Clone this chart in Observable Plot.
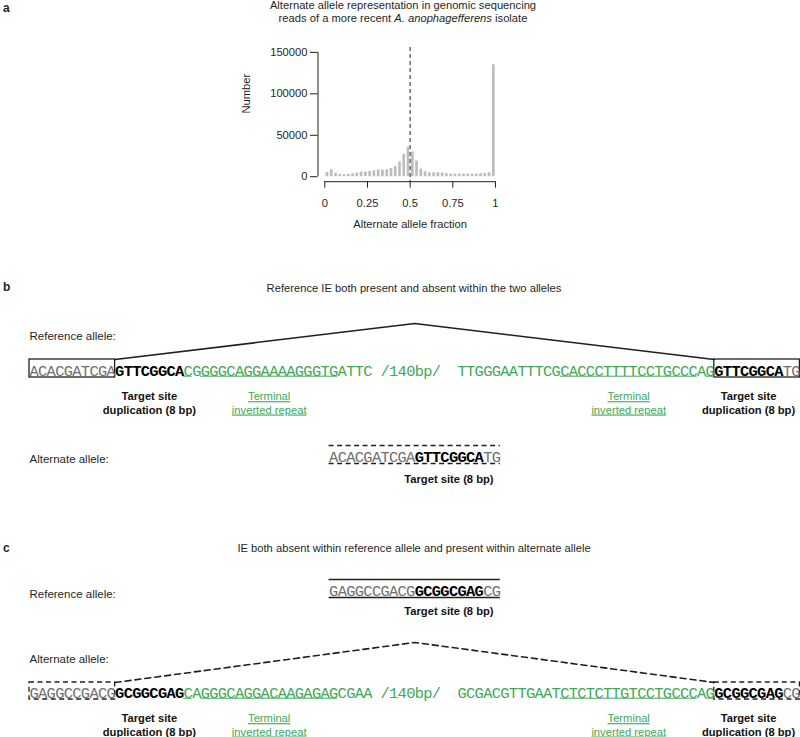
<!DOCTYPE html>
<html><head><meta charset="utf-8">
<script src="https://cdn.jsdelivr.net/npm/d3@7"></script>
<script src="https://cdn.jsdelivr.net/npm/@observablehq/plot@0.6"></script>
<style>
body{margin:0;background:#fff;}
#fig{position:relative;width:800px;height:737px;overflow:hidden;font-family:"Liberation Sans",Arial,sans-serif;color:#1f1f1f;}
#fig > *{position:absolute;left:0;}
.t{width:828px;text-align:center;font-size:11.2px;line-height:13px;white-space:nowrap;}
.lab{font-weight:bold;font-size:12px;line-height:12px;left:3px !important;}
</style></head><body><div id="fig"></div>
<script>
// ---------- data: histogram ----------
const binCenters = [0.0125,0.0375,0.0625,0.0875,0.1125,0.1375,0.1625,0.1875,0.2125,0.2375,0.2625,0.2875,0.3125,0.3375,0.3625,0.3875,0.4125,0.4375,0.4625,0.4875,0.5125,0.5375,0.5625,0.5875,0.6125,0.6375,0.6625,0.6875,0.7125,0.7375,0.7625,0.7875,0.8125,0.8375,0.8625,0.8875,0.9125,0.9375,0.9625,0.9875];
const binCounts = [5200,8300,4000,2800,2400,2800,3600,4400,5600,5600,6300,7100,8300,8300,8300,9900,12300,17900,27000,35700,29800,19000,9100,6000,4800,4800,4800,4400,3600,3200,3200,3200,3200,3200,3200,3200,3600,4000,4800,135000];
const yTicks = [0,50000,100000,150000];
const xTicks = [0,0.25,0.5,0.75,1];
const xTickLabels = ["0","0.25","0.5","0.75","1"];
const expectedFraction = [0.5];

// ---------- data: sequences ----------
const gapLabel = "/140bp/";
const bFlankLeft = "ACACGATCGA";
const bTSD = "GTTCGGCA";
const bIELeft = "CGGGGCAGGAAAAGGGTGATTC";
const bIERight = "TTGGGAATTTCGCACCCTTTTCCTGCCCAG";
const bFlankRight = "TG";
const cFlankLeft = "GAGGCCGACG";
const cTSD = "GCGGCGAG";
const cIELeft = "CAGGGCAGGACAAGAGAGCGAA";
const cIERight = "GCGACGTTGAATCTCTCTTGTCCTGCCCAG";
const cFlankRight = "CG";
const tirLength = 18;

// ---------- styles ----------
const sans = "'Liberation Sans', Arial, sans-serif";
const seqFont = "'Liberation Mono', 'Courier New', monospace";
const green = "#40a957", gray = "#6f6f6f", ink = "#1f1f1f";
const W = 8.56;               // px per base
const seqSize = 15.4;
const seqSpacing = W - 0.6 * seqSize;   // monospace advance = 0.6em

const fig = document.getElementById("fig");
function html(cls, top, inner){const d=document.createElement("div");d.className=cls;d.style.top=top+"px";d.innerHTML=inner;fig.appendChild(d);return d;}

// ---------- histogram ----------
const hData = binCenters.map((f,i)=>({f, n: binCounts[i]}));
const hist = Plot.plot({
  width: 800, height: 240,
  marginLeft: 317.5, marginRight: 298.2, marginTop: 46.9, marginBottom: 58.8,
  x: {domain: [-0.04, 1.04]},
  y: {domain: [-6000, 156000]},
  style: {fontFamily: sans, fontSize: "11.2px", color: ink, background: "transparent", overflow: "visible"},
  marks: [
    Plot.ruleX(hData, {x: "f", y1: 0, y2: "n", stroke: "#bdbdbd", strokeWidth: 2.7}),
    Plot.ruleX(expectedFraction, {stroke: "#6a6a6a", strokeWidth: 1.5, strokeDasharray: "4,3"}),
    Plot.ruleX([-0.04], {y1: yTicks[0], y2: yTicks[yTicks.length-1], stroke: ink}),
    Plot.ruleY([-6000], {x1: xTicks[0], x2: xTicks[xTicks.length-1], stroke: ink}),
    Plot.axisY({ticks: yTicks, tickSize: 7.5, tickPadding: 3, tickFormat: d => String(d), label: null}),
    Plot.axisX({ticks: xTicks, tickSize: 6.5, tickPadding: 11, tickFormat: d => xTickLabels[xTicks.indexOf(d)], label: null}),
    Plot.text(["Number"], {frameAnchor: "left", dx: -72, dy: -1, rotate: -90, fontSize: 11.2}),
    Plot.text(["Alternate allele fraction"], {frameAnchor: "bottom", dy: 45.8, fontSize: 11.2})
  ]
});
hist.style.top = "0px";
fig.appendChild(hist);

// ---------- diagram helpers ----------
const comp = {A:"T",T:"A",G:"C",C:"G"};
const revcomp = s => [...s].reverse().map(c=>comp[c]).join("");
function buildRow(parts, start, base){
  const out=[]; let i=start;
  for(const [s,kind] of parts){
    const lead = s.length - s.trimStart().length;
    const txt = s.trim();
    if(txt) out.push({x:i+lead, y:base, s:txt, kind});
    i += s.length;
  }
  return out;
}
function tirRuns(ieLeft, ieRight, leftStart, rightStart){
  const L = ieLeft.slice(0,tirLength), Rr = ieRight.slice(-tirLength), rc = revcomp(Rr);
  const left=[], right=[];
  for(let k=0;k<tirLength;k++){ if(L[k]===rc[k]){ left.push(leftStart+k); right.push(rightStart+ieRight.length-1-k); } }
  const runs = idx => { idx.sort((a,b)=>a-b); const r=[]; for(const i of idx){ const last=r[r.length-1]; if(last && last.x2===i) last.x2=i+1; else r.push({x1:i,x2:i+1}); } return r; };
  return [runs(left), runs(right)];
}
function longestCenter(runs){ const r = runs.reduce((a,b)=> (b.x2-b.x1)>(a.x2-a.x1)?b:a); return (r.x1+r.x2)/2; }
function fullAllele(flankL, tsd, ieL, ieR, flankR){
  return [[flankL,"flank"],[tsd,"tsd"],[ieL,"ie"],[" "+gapLabel+"  ","ie"],[ieR,"ie"],[tsd,"tsd"],[flankR,"flank"]];
}
const leftTSDStart = bFlankLeft.length;
const ieLeftStart = leftTSDStart + bTSD.length;
const ieRightStart = ieLeftStart + bIELeft.length + gapLabel.length + 3;
const rightTSDStart = ieRightStart + bIERight.length;
const totalLen = rightTSDStart + bTSD.length + bFlankRight.length;
const mid = totalLen/2;
const shortLen = bFlankLeft.length + bTSD.length + bFlankRight.length;
const shortStart = mid - shortLen/2;

// rows (page y)
const R = {
  bRefLabel:339, bApex:323, bTop:359, bBot:377, bBase:375, bAnn:413,
  bAltLabel:462, bAltTop:445, bAltBot:463, bAltBase:461, bAltAnn:482,
  cRefLabel:597, cRefTop:579, cRefBot:597, cRefBase:595, cRefAnn:614.5,
  cAltLabel:662, cApex:642, cTop:682, cBot:699, cBase:697, cAnn:735
};

const segs = [
  ...buildRow(fullAllele(bFlankLeft,bTSD,bIELeft,bIERight,bFlankRight), 0, R.bBase),
  ...buildRow([[bFlankLeft,"flank"],[bTSD,"tsd"],[bFlankRight,"flank"]], shortStart, R.bAltBase),
  ...buildRow([[cFlankLeft,"flank"],[cTSD,"tsd"],[cFlankRight,"flank"]], shortStart, R.cRefBase),
  ...buildRow(fullAllele(cFlankLeft,cTSD,cIELeft,cIERight,cFlankRight), 0, R.cBase)
];
const [bL, bR] = tirRuns(bIELeft, bIERight, ieLeftStart, ieRightStart);
const [cL, cR] = tirRuns(cIELeft, cIERight, ieLeftStart, ieRightStart);
const underlines = [
  ...bL.map(r=>({...r,y:R.bBase+0.7})), ...bR.map(r=>({...r,y:R.bBase+0.7})),
  ...cL.map(r=>({...r,y:R.cBase+0.7})), ...cR.map(r=>({...r,y:R.cBase+0.7}))
];
const tsdCenterL = leftTSDStart + bTSD.length/2, tsdCenterR = rightTSDStart + bTSD.length/2;
const tsdCenterShort = shortStart + bFlankLeft.length + bTSD.length/2;
const tsdText = "Target site\nduplication (8 bp)";
const tirText = "Terminal\ninverted repeat";
const boldAnn = [
  {x: tsdCenterL, y: R.bAnn, t: tsdText}, {x: tsdCenterR, y: R.bAnn, t: tsdText},
  {x: tsdCenterShort, y: R.bAltAnn, t: "Target site (8 bp)"},
  {x: tsdCenterShort, y: R.cRefAnn, t: "Target site (8 bp)"},
  {x: tsdCenterL, y: R.cAnn, t: tsdText}, {x: tsdCenterR, y: R.cAnn, t: tsdText}
];
const greenAnn = [
  {x: longestCenter(bL), y: R.bAnn}, {x: longestCenter(bR), y: R.bAnn},
  {x: longestCenter(cL), y: R.cAnn}, {x: longestCenter(cR), y: R.cAnn}
];
const rowLabels = [
  {y: R.bRefLabel, t: "Reference allele:"}, {y: R.bAltLabel, t: "Alternate allele:"},
  {y: R.cRefLabel, t: "Reference allele:"}, {y: R.cAltLabel, t: "Alternate allele:"}
];
const solidBoxes = [{x1:0,x2:leftTSDStart,y1:R.bTop,y2:R.bBot},{x1:rightTSDStart,x2:totalLen,y1:R.bTop,y2:R.bBot}];
const dashedBoxes = [{x1:0,x2:leftTSDStart,y1:R.cTop,y2:R.cBot},{x1:rightTSDStart,x2:totalLen,y1:R.cTop,y2:R.cBot}];
const shortEnd = shortStart + shortLen;
const dashedRules = [{y:R.bAltTop},{y:R.bAltBot}];
const solidRules = [{y:R.cRefTop},{y:R.cRefBot}];
const bTent = [{x:leftTSDStart,y:R.bTop},{x:mid,y:R.bApex},{x:rightTSDStart,y:R.bTop}];
const cTent = [{x:leftTSDStart,y:R.cTop},{x:mid,y:R.cApex},{x:rightTSDStart,y:R.cTop}];

const seqOpts = {x:"x", y:"y", text:"s", fontFamily: seqFont, fontSize: seqSize, lineAnchor:"bottom", textAnchor:"start"};
const diag = Plot.plot({
  width: 800, height: 497, margin: 0,
  x: {domain: [0, 90], range: [29, 29 + 90*W], axis: null},
  y: {domain: [240, 737], range: [0, 497], axis: null},
  style: {fontFamily: sans, fontSize: "11.2px", color: ink, background: "transparent"},
  marks: [
    Plot.text(rowLabels, {x: 0, y: "y", text: "t", textAnchor: "start", lineAnchor: "bottom", fontSize: 11.5}),
    Plot.line(bTent, {x:"x", y:"y", stroke: ink, strokeWidth: 1.6}),
    Plot.line(cTent, {x:"x", y:"y", stroke: ink, strokeWidth: 1.6, strokeDasharray: "6,4"}),
    Plot.rect(solidBoxes, {x1:"x1",x2:"x2",y1:"y1",y2:"y2", fill:"none", stroke: ink, strokeWidth: 1.3}),
    Plot.rect(dashedBoxes, {x1:"x1",x2:"x2",y1:"y1",y2:"y2", fill:"none", stroke: ink, strokeWidth: 1.3, strokeDasharray: "5,3.5"}),
    Plot.ruleY(dashedRules, {y:"y", x1: shortStart, x2: shortEnd, stroke: ink, strokeWidth: 1.3, strokeDasharray: "5,3.5"}),
    Plot.ruleY(solidRules, {y:"y", x1: shortStart, x2: shortEnd, stroke: ink, strokeWidth: 1.3}),
    Plot.ruleY(underlines, {y:"y", x1:"x1", x2:"x2", stroke: green, strokeWidth: 1}),
    Plot.text(segs.filter(d=>d.kind==="flank"), {...seqOpts, fill: gray}),
    Plot.text(segs.filter(d=>d.kind==="tsd"), {...seqOpts, fill: "#000", fontWeight: "bold"}),
    Plot.text(segs.filter(d=>d.kind==="ie"), {...seqOpts, fill: green}),
    Plot.text(boldAnn, {x:"x", y:"y", text:"t", fontWeight:"bold", lineAnchor:"bottom", lineHeight: 1.19, fill: "#111"}),
    Plot.text(greenAnn, {x:"x", y:"y", text: () => tirText, lineAnchor:"bottom", lineHeight: 1.19, fill: green})
  ]
});
diag.style.top = "240px";
fig.appendChild(diag);
// monospace cells: tighten advance to the base width
diag.querySelectorAll('g[font-family*="Liberation Mono"]').forEach(g => g.style.letterSpacing = seqSpacing + "px");
// green labels are underlined in the original
diag.querySelectorAll('text').forEach(t => { if (t.textContent.startsWith("Terminal")) t.style.textDecoration = "underline"; });

// ---------- titles (HTML) ----------
html("lab", 2, "a");
html("t", -1.4, "Alternate allele representation in genomic sequencing<br>reads of a more recent <i>A. anophagefferens</i> isolate").style.width = "806px";
html("lab", 281, "b");
html("t", 281.5, "Reference IE both present and absent within the two alleles");
html("lab", 542, "c");
html("t", 542, "IE both absent within reference allele and present within alternate allele");
</script></body></html>
